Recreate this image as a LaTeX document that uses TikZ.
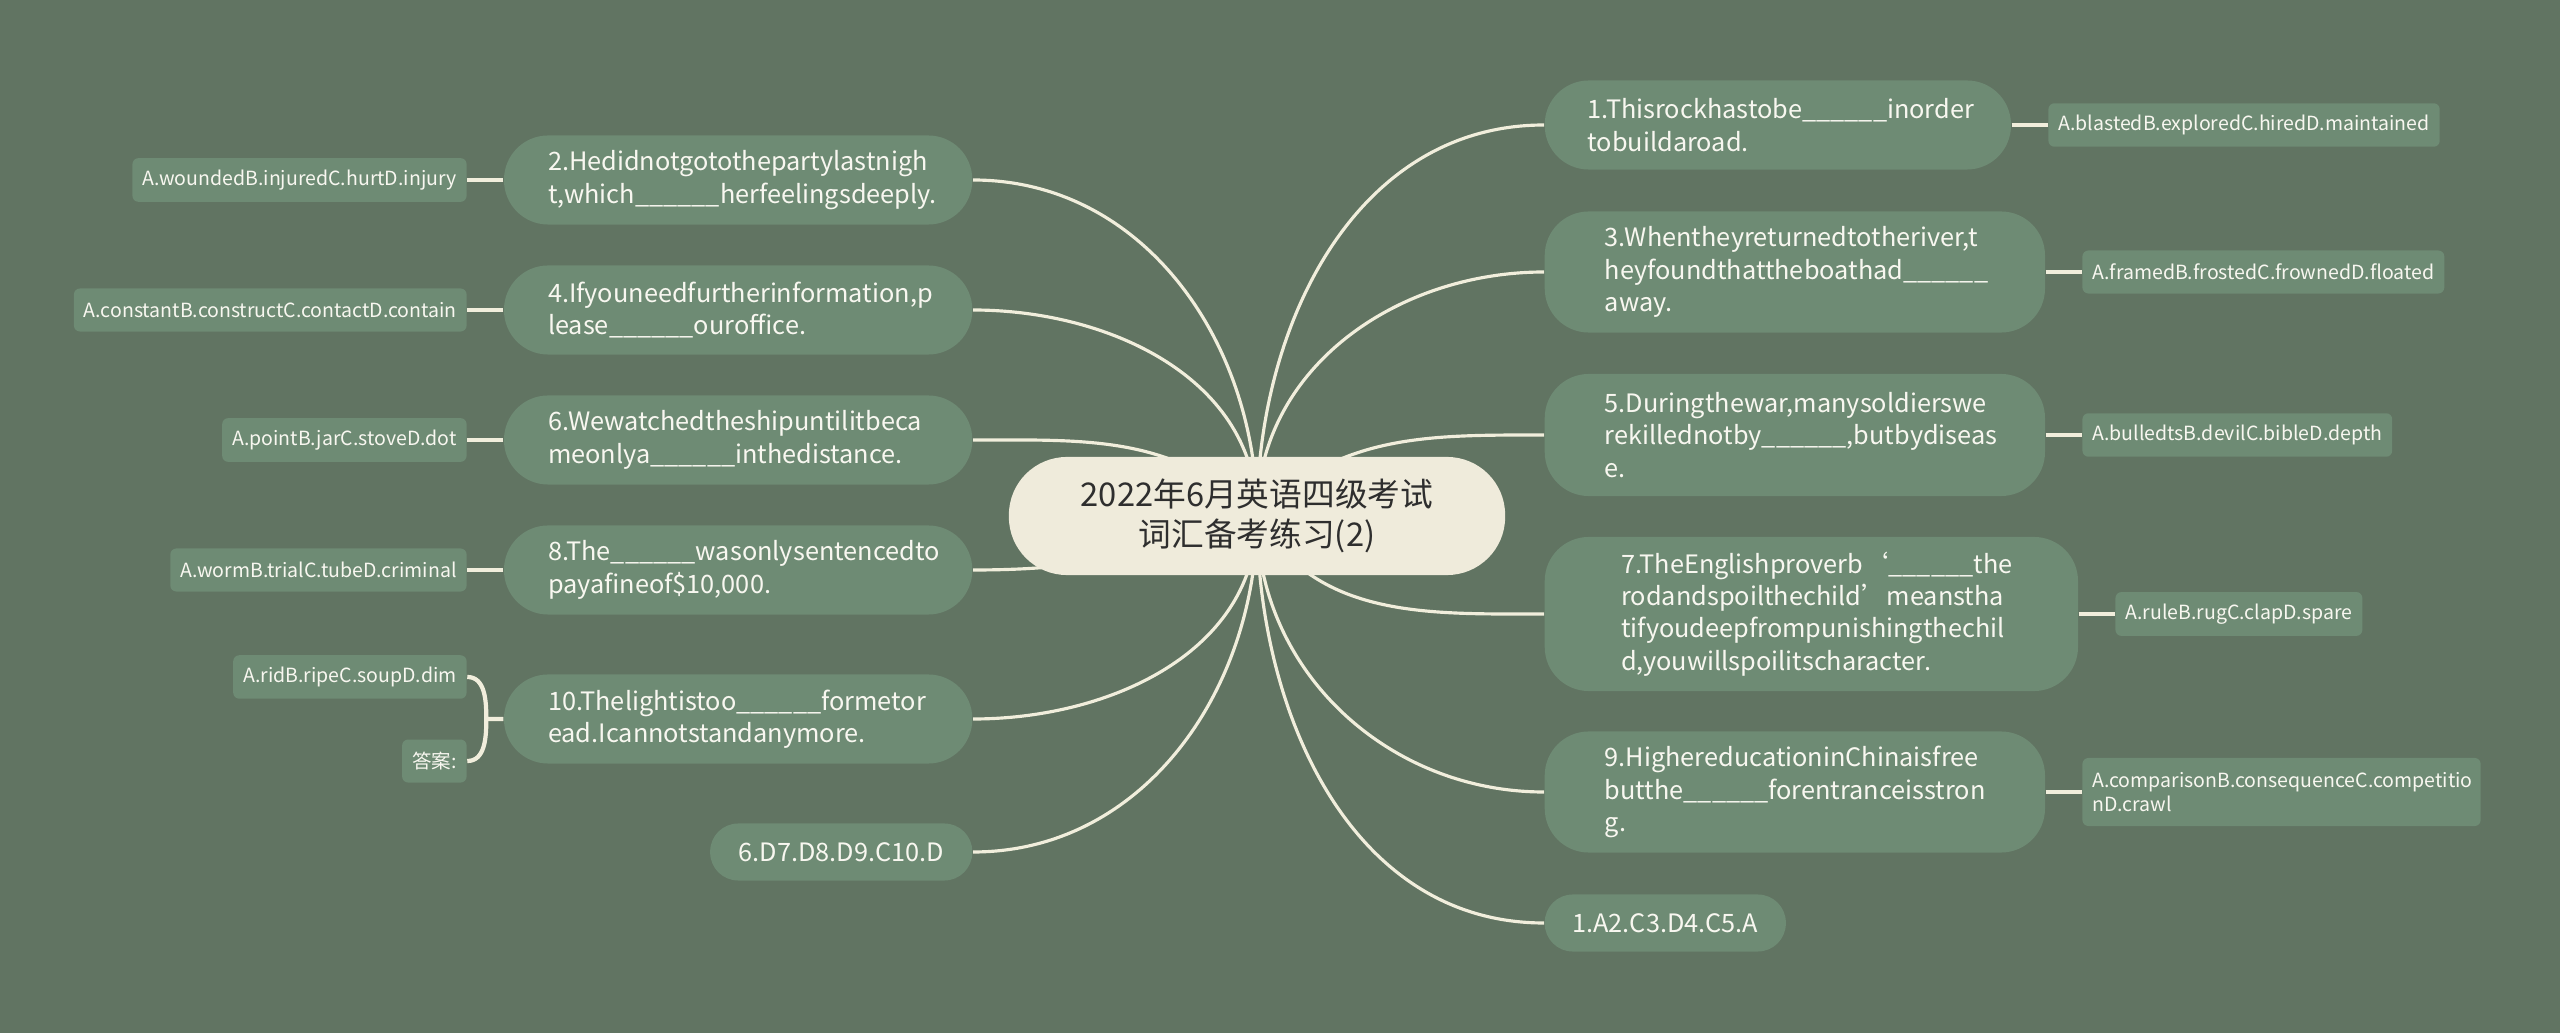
\documentclass[tikz,border=0pt]{standalone}
\usepackage{fontspec}
\setmainfont{Noto Sans CJK SC}
\usetikzlibrary{positioning}
\pgfdeclarelayer{bg}
\pgfdeclarelayer{links}
\pgfsetlayers{bg,links,main}
\definecolor{bgcol}{HTML}{617462}
\definecolor{boxcol}{HTML}{6E8B74}
\definecolor{rootcol}{HTML}{EFEBDB}
\definecolor{linkcol}{HTML}{F1EEDC}
\definecolor{txtcol}{HTML}{F8F7F0}

\begin{document}
\begin{tikzpicture}[x=0.01cm,y=0.01cm,
    rnode/.style={fill=rootcol,text=black!82,rounded corners=0.58cm,minimum width=4.96cm,minimum height=1.18cm,align=center,font=\fontsize{9.3}{11.4}\selectfont},
    qnode/.style={fill=boxcol,text=txtcol,rounded corners=0.44cm,text width=3.8cm,align=left,inner xsep=0pt,font=\fontsize{7.2}{9.2}\selectfont},
    anode/.style={fill=boxcol,text=txtcol,rounded corners=0.28cm,minimum height=0.57cm,align=center,font=\fontsize{7.2}{9.2}\selectfont},
    onode/.style={fill=boxcol,text=txtcol,rounded corners=0.06cm,minimum height=0.43cm,inner xsep=0.1cm,font=\fontsize{5.55}{6.9}\selectfont},
    link/.style={draw=linkcol,line width=0.9pt},
    sublink/.style={draw=linkcol,line width=1.2pt}]
    \begin{pgfonlayer}{bg}
      \fill[bgcol] (0,0) rectangle (2560,1033);
    \end{pgfonlayer}
    \node[rnode] (root) at (1257,517) {2022年6月英语四级考试\\词汇备考练习(2)};
    % left
    \node[qnode,anchor=east,minimum width=4.68cm,minimum height=0.89cm] (q2) at (973,853) {2.Hedidnotgotothepartylastnigh\\t,which\_\_\_\_\_\_herfeelingsdeeply.};
    \node[qnode,anchor=east,minimum width=4.68cm,minimum height=0.89cm] (q4) at (973,723) {4.Ifyouneedfurtherinformation,p\\lease\_\_\_\_\_\_ouroffice.};
    \node[qnode,anchor=east,minimum width=4.68cm,minimum height=0.89cm] (q6) at (973,593) {6.Wewatchedtheshipuntilitbeca\\meonlya\_\_\_\_\_\_inthedistance.};
    \node[qnode,anchor=east,minimum width=4.68cm,minimum height=0.89cm] (q8) at (973,463) {8.The\_\_\_\_\_\_wasonlysentencedto\\payafineof\$10,000.};
    \node[qnode,anchor=east,minimum width=4.68cm,minimum height=0.89cm] (q10) at (973,314) {10.Thelightistoo\_\_\_\_\_\_formetor\\ead.Icannotstandanymore.};
    \node[anode,anchor=east,minimum width=2.62cm] (qa) at (973,181) {6.D7.D8.D9.C10.D};
    \node[onode,left=0.36cm of q2] (o2) {A.woundedB.injuredC.hurtD.injury};
    \node[onode,left=0.36cm of q4] (o4) {A.constantB.constructC.contactD.contain};
    \node[onode,left=0.36cm of q6] (o6) {A.pointB.jarC.stoveD.dot};
    \node[onode,left=0.36cm of q8] (o8) {A.wormB.trialC.tubeD.criminal};
    \node[onode,left=0.36cm of q10,yshift=0.42cm] (o10) {A.ridB.ripeC.soupD.dim};
    \node[onode,left=0.36cm of q10,yshift=-0.42cm] (k10) {答案:};
    \coordinate[left=0.17cm of q10.west] (j10);
    % right
    \node[qnode,anchor=west,minimum width=4.66cm,minimum height=0.89cm] (q1) at (1544,908) {1.Thisrockhastobe\_\_\_\_\_\_inorder\\tobuildaroad.};
    \node[qnode,anchor=west,minimum width=5cm,minimum height=1.21cm] (q3) at (1544,761) {3.Whentheyreturnedtotheriver,t\\heyfoundthattheboathad\_\_\_\_\_\_\\away.};
    \node[qnode,anchor=west,minimum width=5cm,minimum height=1.22cm] (q5) at (1544,598) {5.Duringthewar,manysoldierswe\\rekillednotby\_\_\_\_\_\_,butbydiseas\\e.};
    \node[qnode,anchor=west,minimum width=5.33cm,minimum height=1.54cm] (q7) at (1544,419) {7.TheEnglishproverb‘\_\_\_\_\_\_the\\rodandspoilthechild’meanstha\\tifyoudeepfrompunishingthechil\\d,youwillspoilitscharacter.};
    \node[qnode,anchor=west,minimum width=5cm,minimum height=1.21cm] (q9) at (1544,241) {9.HighereducationinChinaisfree\\butthe\_\_\_\_\_\_forentranceisstron\\g.};
    \node[anode,anchor=west,minimum width=2.41cm] (qb) at (1544,110) {1.A2.C3.D4.C5.A};
    \node[onode,right=0.36cm of q1] (o1) {A.blastedB.exploredC.hiredD.maintained};
    \node[onode,right=0.36cm of q3] (o3) {A.framedB.frostedC.frownedD.floated};
    \node[onode,right=0.36cm of q5] (o5) {A.bulledtsB.devilC.bibleD.depth};
    \node[onode,right=0.36cm of q7] (o7) {A.ruleB.rugC.clapD.spare};
    \node[onode,right=0.36cm of q9,text width=3.78cm,align=left,minimum height=0.68cm] (o9) {A.comparisonB.consequenceC.competitio\\nD.crawl};
    \begin{pgfonlayer}{links}
      \draw[link] (root.center) to[out=90,in=0] (q2.east);
      \draw[link] (root.center) to[out=90,in=0] (q4.east);
      \draw[link] (root.center) to[out=135,in=0] (q6.east);
      \draw[link] (root.center) to[out=200,in=0] (q8.east);
      \draw[link] (root.center) to[out=-90,in=0] (q10.east);
      \draw[link] (root.center) to[out=-90,in=0] (qa.east);
      \draw[link] (root.center) to[out=90,in=180] (q1.west);
      \draw[link] (root.center) to[out=90,in=180] (q3.west);
      \draw[link] (root.center) to[out=45,in=180] (q5.west);
      \draw[link] (root.center) to[out=-60,in=180] (q7.west);
      \draw[link] (root.center) to[out=-90,in=180] (q9.west);
      \draw[link] (root.center) to[out=-90,in=180] (qb.west);
      \draw[sublink] (q2.west) -- (o2.east);
      \draw[sublink] (q4.west) -- (o4.east);
      \draw[sublink] (q6.west) -- (o6.east);
      \draw[sublink] (q8.west) -- (o8.east);
      \draw[sublink] (q10.west) -- (j10) to[out=90,in=0] (o10.east);
      \draw[sublink] (j10) to[out=-90,in=0] (k10.east);
      \draw[sublink] (q1.east) -- (o1.west);
      \draw[sublink] (q3.east) -- (o3.west);
      \draw[sublink] (q5.east) -- (o5.west);
      \draw[sublink] (q7.east) -- (o7.west);
      \draw[sublink] (q9.east) -- (o9.west);
    \end{pgfonlayer}
\end{tikzpicture}
\end{document}
